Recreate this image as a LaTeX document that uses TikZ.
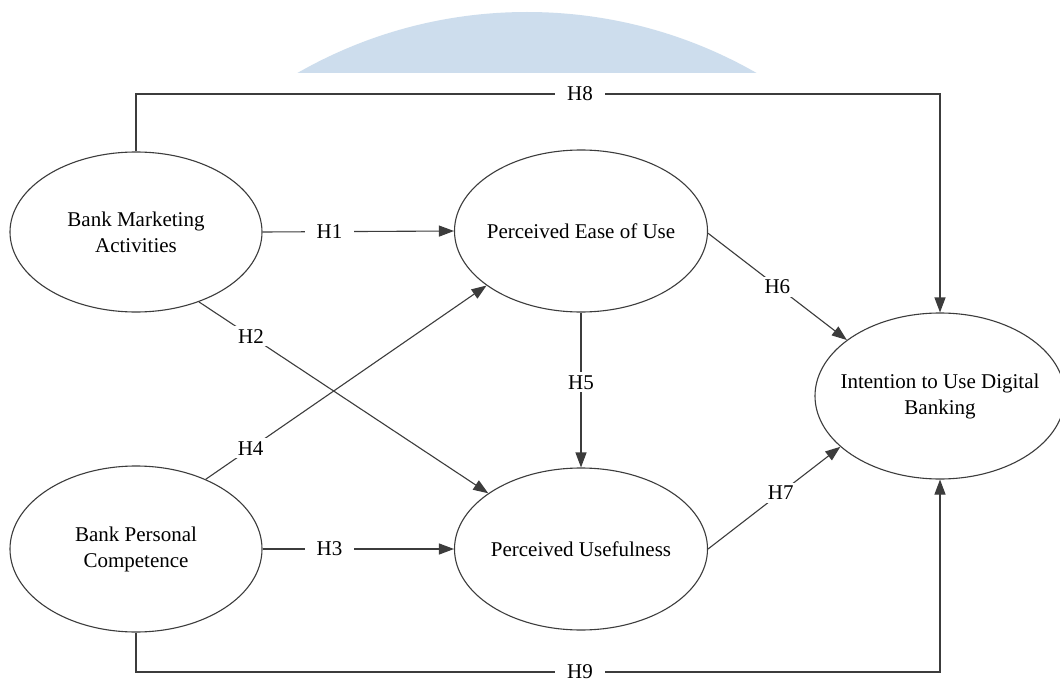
\documentclass[tikz,border=0pt]{standalone}
\usepackage{fontspec}
\setmainfont{Liberation Serif}
\usetikzlibrary{shapes.geometric,arrows.meta}
\definecolor{wm}{RGB}{205,221,237}
\definecolor{ln}{RGB}{60,60,60}
\begin{document}
\begin{tikzpicture}[x=1pt,y=-1pt,
  every node/.style={font=\fontsize{21}{26}\selectfont, text=black},
  lv/.style={draw=ln, line width=1.1pt, ellipse, inner sep=-40pt, minimum width=252pt, align=center},
  lbl/.style={fill=white, inner xsep=12pt, inner ysep=3pt},
  con/.style={draw=ln, line width=1.1pt},
  arr/.style={con, -{Triangle[length=15pt,width=11pt]}}]
\useasboundingbox (0,0) rectangle (1060,682);
\fill[white] (0,0) rectangle (1060,682);
\begin{scope}
  \clip (0,0) rectangle (1060,73);
  \fill[wm] (527,474) circle (462);
\end{scope}

\node[lv, minimum height=160pt] (BMA) at (136,232) {Bank Marketing\\Activities};
\node[lv, minimum height=166pt] (BPC) at (136,549) {Bank Personal\\Competence};
\node[lv, minimum height=162pt, minimum width=253pt] (PEU) at (581,231) {Perceived Ease of Use};
\node[lv, minimum height=162pt, minimum width=253pt] (PU) at (581,549) {Perceived Usefulness};
\node[lv, minimum height=166pt, minimum width=250pt] (INT) at (940,396) {Intention to Use Digital\\Banking};

\draw[arr] (BMA.east) -- node[lbl, pos=.35] {H1} (PEU.west);
\draw[arr] (BPC.east) -- node[lbl, pos=.35] {H3} (PU.west);
\draw[arr] (BMA.-48) -- node[lbl, pos=.18] {H2} (PU.149);
\draw[arr] (BPC.45) -- node[lbl, pos=.16] {H4} (PEU.-150);
\draw[arr] (PEU.south) -- node[lbl, pos=.45] {H5} (PU.north);
\draw[arr] (PEU.-1) -- node[lbl, pos=.5] {H6} (INT.149);
\draw[arr] (PU.east) -- node[lbl, pos=.55] {H7} (INT.207);

\coordinate (h8) at (580,94);
\coordinate (h9) at (580,672);
\draw[arr] (BMA.north) |- (h8) -| (INT.north);
\draw[arr] (BPC.south) |- (h9) -| (INT.south);
\node[lbl] at (h8) {H8};
\node[lbl] at (h9) {H9};
\end{tikzpicture}
\end{document}
